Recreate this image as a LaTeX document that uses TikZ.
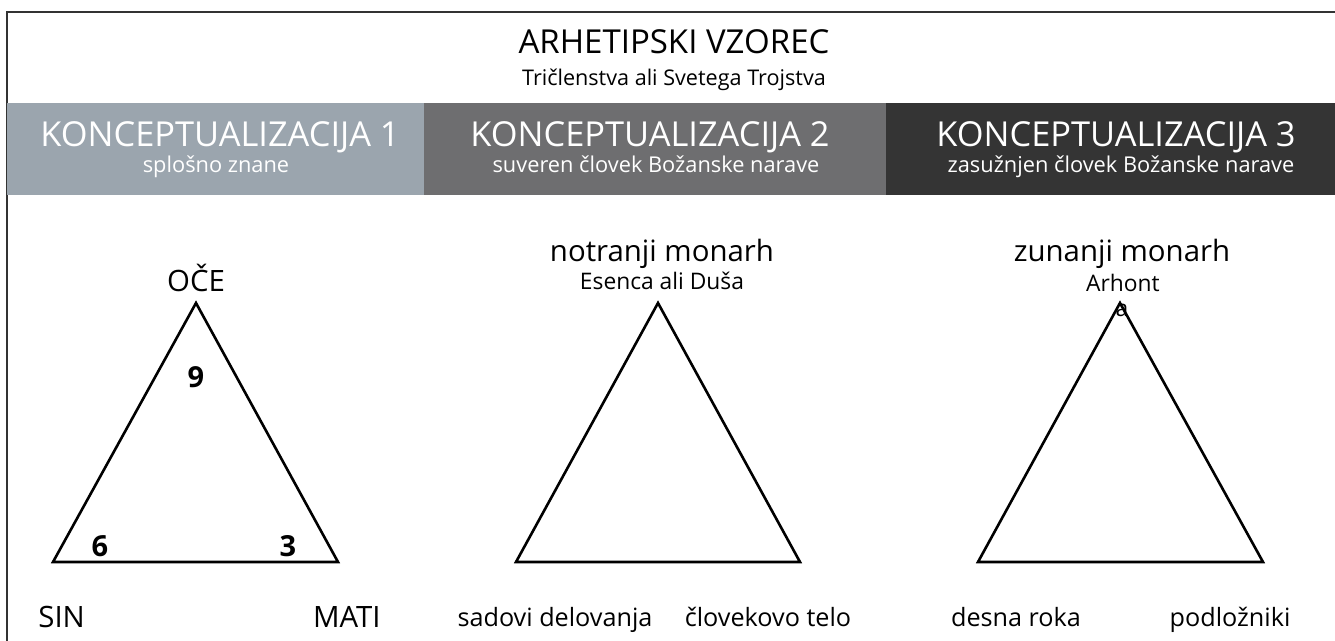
\documentclass[tikz,border=0pt]{standalone}
\usepackage{fontspec}
\setmainfont{Open Sans}
\usetikzlibrary{positioning}

\definecolor{konc1}{HTML}{9BA5AE}
\definecolor{konc2}{HTML}{6E6E70}
\definecolor{konc3}{HTML}{343434}

\begin{document}
\begin{tikzpicture}[x=0.5pt, y=-0.5pt,
        tri/.style={line width=1.3pt, line join=miter},
        naslov/.style={font=\fontsize{16.5}{18}\selectfont, anchor=base},
        podnaslov/.style={font=\fontsize{10.8}{12}\selectfont, anchor=base},
        pas/.style={font=\fontsize{17.2}{20}\selectfont, text=white, anchor=base},
        podpas/.style={font=\fontsize{10.9}{12}\selectfont, text=white, anchor=base},
        vrh/.style={font=\fontsize{14.7}{16}\selectfont, anchor=base},
        opis/.style={font=\fontsize{11.4}{13}\selectfont, anchor=base},
        oglisce/.style={font=\fontsize{12.6}{14}\selectfont, anchor=base},
        stevilo/.style={font=\bfseries\fontsize{14.5}{16}\selectfont, anchor=base}]
    \useasboundingbox (0, 0) rectangle (1335, 641);
    \fill[white] (0, 0) rectangle (1335, 641);
    \draw[line width=0.8pt, black!80] (7, 641) -- (7, 12) -- (1335, 12);

    \node (arh) [naslov] at (674, 54) {ARHETIPSKI VZOREC};
    \node (tric) [podnaslov] at (674, 86) {Tričlenstva ali Svetega Trojstva};

    % pasovi
    \fill[konc1] (7, 103) rectangle (424, 195);
    \fill[konc2] (424, 103) rectangle (886, 195);
    \fill[konc3] (886, 103) rectangle (1335, 195);

    \node (k1) [pas] at (220, 147) {KONCEPTUALIZACIJA 1};
    \node (k1s) [podpas] at (216, 173) {splošno znane};
    \node (k2) [pas] at (650, 147) {KONCEPTUALIZACIJA 2};
    \node (k2s) [podpas] at (656, 173) {suveren človek Božanske narave};
    \node (k3) [pas] at (1116, 147) {KONCEPTUALIZACIJA 3};
    \node (k3s) [podpas] at (1121, 173) {zasužnjen človek Božanske narave};

    % trikotniki
    \coordinate (A1) at (196, 303);
    \coordinate (B1) at (53, 562);
    \coordinate (C1) at (338, 562);
    \coordinate (A2) at (658, 303);
    \coordinate (B2) at (516, 562);
    \coordinate (C2) at (800, 562);
    \coordinate (A3) at (1120, 303);
    \coordinate (B3) at (978, 562);
    \coordinate (C3) at (1263, 562);
    \foreach \i in {1, 2, 3}
        \draw[tri] (A\i) -- (B\i) -- (C\i) -- cycle;

    \node (oce) [vrh] at (196, 292) {OČE};
    \node [stevilo] at (196, 388) {9};
    \node [stevilo] at (100, 557) {6};
    \node [stevilo] at (288, 557) {3};
    \node (sin) [vrh, anchor=base west, inner sep=0pt] at (38, 628) {SIN};
    \node (mati) [vrh, anchor=base east, inner sep=0pt] at (381, 628) {MATI};

    \node (notr) [vrh] at (662, 262) {notranji monarh};
    \node (esen) [opis] at (662, 290) {Esenca ali Duša};
    \node (sad) [oglisce] at (555, 627) {sadovi delovanja};
    \node (telo) [oglisce] at (768, 627) {človekovo telo};

    \node (zun) [vrh] at (1122, 262) {zunanji monarh};
    \node (arhont) [opis] at (1123, 292) {Arhont};
    \node [opis] at (1122, 317) {a};
    \node (desna) [oglisce] at (1016, 627) {desna roka};
    \node (podl) [oglisce] at (1230, 627) {podložniki};
\end{tikzpicture}
\end{document}
